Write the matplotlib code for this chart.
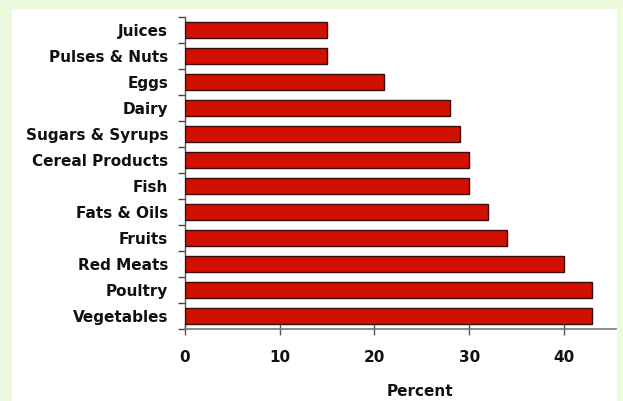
import matplotlib
matplotlib.use("Agg")
import matplotlib.pyplot as plt
from matplotlib.patches import Rectangle
import numpy as np

categories = ["Juices", "Pulses & Nuts", "Eggs", "Dairy", "Sugars & Syrups",
              "Cereal Products", "Fish", "Fats & Oils", "Fruits", "Red Meats",
              "Poultry", "Vegetables"]
percent = [15, 15, 21, 28, 29, 30, 30, 32, 34, 40, 43, 43]
xticks = [0, 10, 20, 30, 40]

W, H = 623, 401
fig = plt.figure(figsize=(W / 100, H / 100), dpi=100)
fig.patch.set_facecolor("#ebf9dc")

# white panel behind the chart
bg = fig.add_axes([0, 0, 1, 1], zorder=-1)
bg.set_axis_off()
bg.set_xlim(0, W)
bg.set_ylim(H, 0)
bg.add_patch(Rectangle((12, 9), 617 - 12, H - 9 + 2, facecolor="white",
                       edgecolor="none"))

ax = fig.add_axes([185 / W, 1 - 329 / H, (616 - 185) / W, (329 - 17) / H],
                  zorder=1)
ax.set_facecolor("none")

y = np.arange(len(categories))
ax.barh(y, percent, height=0.6, color="#d11000", edgecolor="#3c0c0c",
        linewidth=1.0, zorder=3)

ax.set_ylim(len(categories) - 0.5, -0.5)
ax.set_xlim(0, 45.5)

ax.set_yticks(y)
ax.set_yticklabels(categories, fontsize=11, fontweight="bold", color="#111111")
ax.tick_params(axis="y", which="major", length=0, pad=12)
ax.set_yticks(np.arange(-0.5, len(categories), 1), minor=True)
ax.tick_params(axis="y", which="minor", length=5, width=1, color="#444444",
               direction="out")

ax.set_xticks(xticks)
ax.set_xticklabels([str(t) for t in xticks], fontsize=11, fontweight="bold",
                   color="#111111")
ax.tick_params(axis="x", length=8, width=1, color="#555555", direction="inout",
               pad=11)

for s in ("top", "right"):
    ax.spines[s].set_visible(False)
ax.spines["left"].set_color("#555555")
ax.spines["bottom"].set_color("#777777")
ax.spines["left"].set_linewidth(1)
ax.spines["bottom"].set_linewidth(1.2)

ax.set_xlabel("Percent", fontsize=11, fontweight="bold", color="#111111")
ax.xaxis.set_label_coords((420 - 185) / (616 - 185), -(392 - 329) / (329 - 17))
ax.xaxis.label.set_va("center")

fig.savefig("out.png", dpi=100, facecolor=fig.get_facecolor())
